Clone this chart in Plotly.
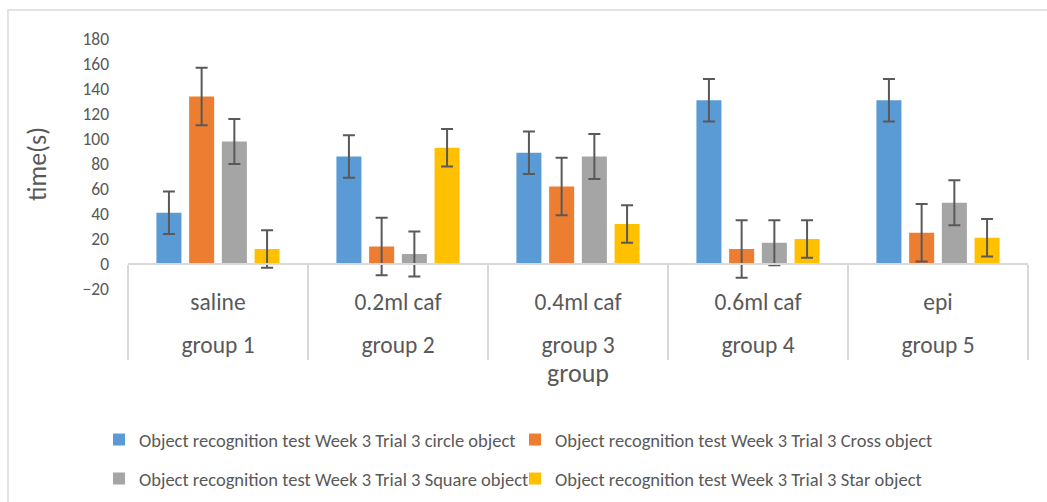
import plotly.graph_objects as go

groups = ["group 1", "group 2", "group 3", "group 4", "group 5"]
treatments = ["saline", "0.2ml caf", "0.4ml caf", "0.6ml caf", "epi"]

series_names = [
    "Object recognition test Week 3 Trial 3 circle object",
    "Object recognition test Week 3 Trial 3 Cross object",
    "Object recognition test Week 3 Trial 3 Square object",
    "Object recognition test Week 3 Trial 3 Star object",
]
circle = [41, 86, 89, 131, 131]
cross = [134, 14, 62, 12, 25]
square = [98, 8, 86, 17, 49]
star = [12, 93, 32, 20, 21]
values = [circle, cross, square, star]

err_circle = 17
err_cross = 23
err_square = 18
err_star = 15
errors = [err_circle, err_cross, err_square, err_star]

colors = ["#5B9BD5", "#ED7D31", "#A5A5A5", "#FFC000"]
FONT = "Carlito, Calibri, Lato, sans-serif"
TXT = "#595959"

W, H = 1047, 502
L, R, T, B = 128, 19, 39, 213
pw, ph = W - L - R, H - T - B

def px2x(p):
    return (p - L) / pw

def py2y(p):
    return (H - B - p) / ph

# inner-level labels get an extra blank line so the outer level sits lower
inner_labels = [t + "<br>\u00a0" for t in treatments]

fig = go.Figure()
legend_names = ["legend", "legend2", "legend3", "legend4"]
for i in range(4):
    fig.add_trace(go.Bar(
        name=series_names[i],
        x=[groups, inner_labels],
        y=values[i],
        marker=dict(color=colors[i], line=dict(width=0)),
        error_y=dict(type="constant", value=errors[i], color="#595959",
                     thickness=2, width=6),
        legend=legend_names[i],
    ))

# legends: 2x2 layout (text start x, row centre y)
leg_pos = [(139, 440), (555, 440), (139, 479), (555, 479)]
layout_leg = {}
for i, ln in enumerate(legend_names):
    lx, ly = leg_pos[i]
    layout_leg[ln] = dict(
        x=px2x(lx - 40), y=py2y(ly), xanchor="left", yanchor="middle",
        orientation="h", font=dict(family=FONT, size=18.5, color=TXT),
        bgcolor="rgba(0,0,0,0)", itemwidth=30,
    )

fig.update_layout(
    width=W, height=H,
    margin=dict(l=L, r=R, t=T, b=B, autoexpand=False),
    paper_bgcolor="white", plot_bgcolor="white",
    barmode="group", bargap=0.273, bargroupgap=0.235,
    font=dict(family=FONT, color=TXT),
    showlegend=True,
    yaxis=dict(
        range=[-20, 180], dtick=20, tick0=0, showgrid=False, zeroline=False,
        showline=False, ticks="", ticklabelstandoff=18, automargin=False,
        tickfont=dict(family=FONT, size=17.5, color=TXT),
        title=dict(text="time(s)", font=dict(family=FONT, size=26, color=TXT), standoff=28),
        domain=[0, 1],
    ),
    xaxis=dict(
        type="multicategory", anchor="free", position=0.1,
        range=[-0.5, 4.5], automargin=False,
        showline=True, linecolor="#D9D9D9", linewidth=1.5,
        showgrid=False, ticks="", ticklabelstandoff=17,
        showdividers=True, dividercolor="#D9D9D9", dividerwidth=1.5,
        tickfont=dict(family=FONT, size=23.5, color=TXT),
        title=dict(text="group", font=dict(family=FONT, size=26, color=TXT), standoff=4),
    ),
    **layout_leg,
)

# chart-area border
fig.add_shape(type="rect", xref="paper", yref="paper",
              x0=px2x(8), x1=px2x(1052), y0=py2y(507), y1=py2y(10),
              line=dict(color="#D9D9D9", width=1.5), fillcolor="rgba(0,0,0,0)",
              layer="below")

fig.write_html("out.html", config={"displayModeBar": False},
               post_script="document.body.style.margin='0';document.body.style.padding='0';")
